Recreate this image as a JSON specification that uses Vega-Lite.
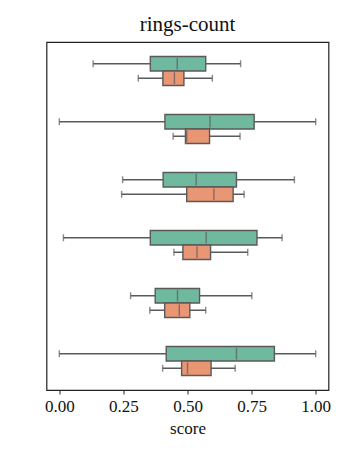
{
  "$schema": "https://vega.github.io/schema/vega-lite/v6.json",
  "autosize": "none",
  "padding": {"left": 46.5, "top": 42, "right": 19, "bottom": 65},
  "width": 282,
  "height": 348,
  "title": {"text": "rings-count", "font": "Liberation Serif", "fontSize": 21, "fontWeight": "normal", "color": "#111", "offset": 7},
  "config": {
    "view": {"stroke": "#222", "strokeWidth": 1.2},
    "font": "Liberation Serif"
  },
  "data": {"values": [
    {"group": "1", "hue": "A", "low": 0.132, "q1": 0.355, "med": 0.46, "q3": 0.571, "high": 0.707},
    {"group": "1", "hue": "B", "low": 0.308, "q1": 0.404, "med": 0.449, "q3": 0.486, "high": 0.597},
    {"group": "2", "hue": "A", "low": 0.0, "q1": 0.412, "med": 0.588, "q3": 0.76, "high": 1.0},
    {"group": "2", "hue": "B", "low": 0.444, "q1": 0.492, "med": 0.497, "q3": 0.586, "high": 0.705},
    {"group": "3", "hue": "A", "low": 0.247, "q1": 0.405, "med": 0.534, "q3": 0.691, "high": 0.917},
    {"group": "3", "hue": "B", "low": 0.243, "q1": 0.497, "med": 0.603, "q3": 0.678, "high": 0.721},
    {"group": "4", "hue": "A", "low": 0.016, "q1": 0.355, "med": 0.573, "q3": 0.771, "high": 0.869},
    {"group": "4", "hue": "B", "low": 0.447, "q1": 0.482, "med": 0.537, "q3": 0.59, "high": 0.735},
    {"group": "5", "hue": "A", "low": 0.278, "q1": 0.374, "med": 0.461, "q3": 0.547, "high": 0.751},
    {"group": "5", "hue": "B", "low": 0.353, "q1": 0.411, "med": 0.468, "q3": 0.509, "high": 0.571},
    {"group": "6", "hue": "A", "low": 0.0, "q1": 0.417, "med": 0.691, "q3": 0.839, "high": 1.0},
    {"group": "6", "hue": "B", "low": 0.403, "q1": 0.477, "med": 0.5, "q3": 0.592, "high": 0.686}
  ]},
  "encoding": {
    "y": {"field": "group", "type": "nominal", "axis": null, "sort": ["1","2","3","4","5","6"],
          "scale": {"paddingInner": 0, "paddingOuter": 0}},
    "yOffset": {"field": "hue", "type": "nominal", "sort": ["A","B"],
                "scale": {"paddingInner": 0, "paddingOuter": 1.5}}
  },
  "layer": [
    {
      "mark": {"type": "rule", "color": "#5a5a5a", "strokeWidth": 1.4},
      "encoding": {
        "x": {"field": "low", "type": "quantitative",
              "scale": {"domain": [-0.05, 1.05], "nice": false, "zero": false},
              "axis": {"title": "score", "titleFont": "Liberation Serif", "titleFontSize": 17, "titleFontWeight": "normal", "titleColor": "#111", "titlePadding": 6,
                       "values": [0, 0.25, 0.5, 0.75, 1.0], "format": ".2f", "grid": false, "domain": false,
                       "tickColor": "#222", "tickSize": 4, "labelFont": "Liberation Serif", "labelFontSize": 17, "labelColor": "#111", "labelPadding": 4}},
        "x2": {"field": "high"}
      }
    },
    {
      "mark": {"type": "bar", "stroke": "#5a5a5a", "strokeWidth": 1.4},
      "encoding": {
        "x": {"field": "q1", "type": "quantitative"},
        "x2": {"field": "q3"},
        "color": {"field": "hue", "type": "nominal", "legend": null,
                  "scale": {"domain": ["A","B"], "range": ["#6fb99f", "#e99675"]}}
      }
    },
    {
      "mark": {"type": "tick", "color": "#5a5a5a", "thickness": 1.4, "size": 11.6},
      "encoding": {"x": {"field": "med", "type": "quantitative"}}
    },
    {
      "mark": {"type": "tick", "color": "#5a5a5a", "thickness": 1.4, "size": 7},
      "encoding": {"x": {"field": "low", "type": "quantitative"}}
    },
    {
      "mark": {"type": "tick", "color": "#5a5a5a", "thickness": 1.4, "size": 7},
      "encoding": {"x": {"field": "high", "type": "quantitative"}}
    }
  ]
}
